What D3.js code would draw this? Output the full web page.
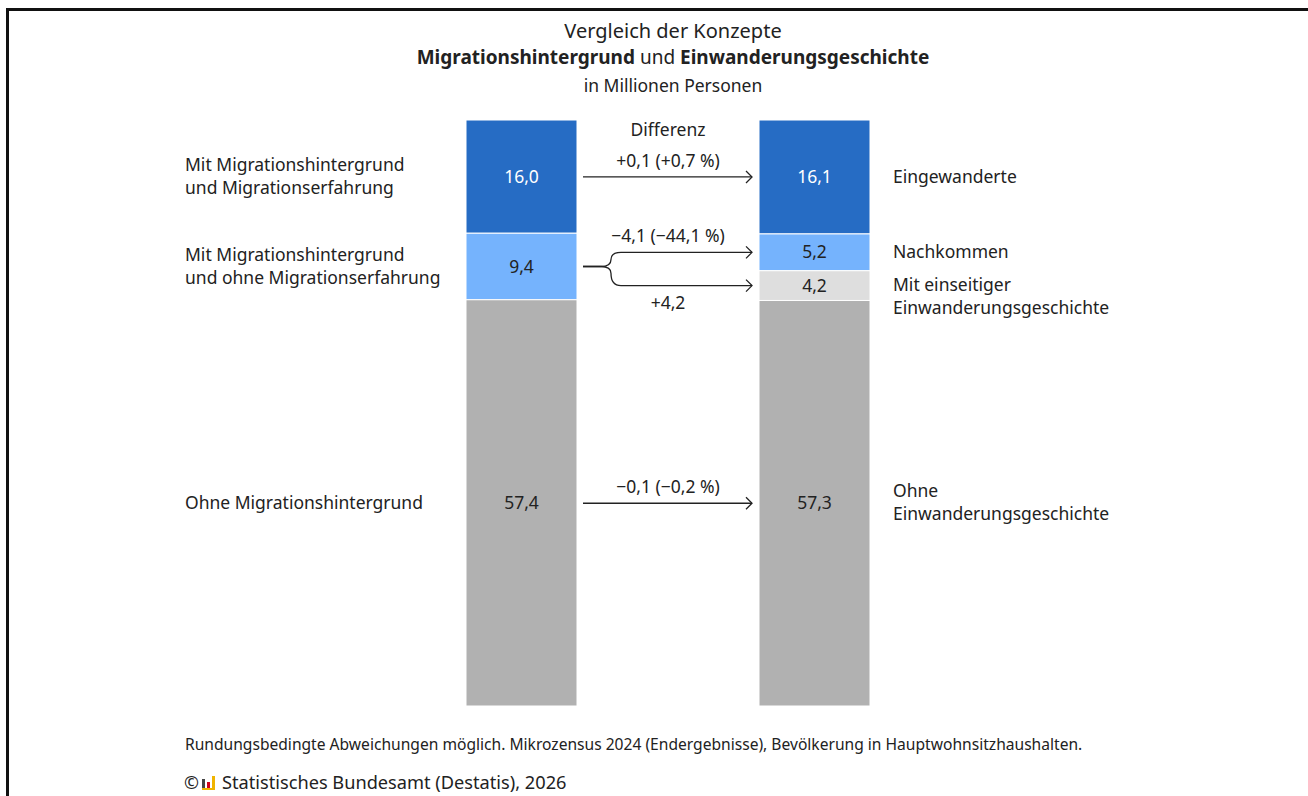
<!DOCTYPE html>
<html>
<head>
<meta charset="utf-8">
<script src="https://cdn.jsdelivr.net/npm/d3@7"></script>
<style>
  body { margin: 0; background: #fff; }
  svg text { font-family: "Noto Sans", "Open Sans", sans-serif; fill: #222; }
</style>
</head>
<body>
<svg id="chart" width="1308" height="796"></svg>
<script>
'use strict';

// left bar: Migrationshintergrund
var leftLabels = [
    ['Mit Migrationshintergrund', 'und Migrationserfahrung'],
    ['Mit Migrationshintergrund', 'und ohne Migrationserfahrung'],
    ['Ohne Migrationshintergrund']
];
var leftValues = [16.0, 9.4, 57.4];

// right bar: Einwanderungsgeschichte
var rightLabels = [
    ['Eingewanderte'],
    ['Nachkommen'],
    ['Mit einseitiger', 'Einwanderungsgeschichte'],
    ['Ohne', 'Einwanderungsgeschichte']
];
var rightValues = [16.1, 5.2, 4.2, 57.3];

var leftColors = ['#266cc4', '#75b3fd', '#b1b1b1'];
var rightColors = ['#266cc4', '#75b3fd', '#dedede', '#b1b1b1'];

// arrows: from left segment -> to right segment
var diffLabels = ['+0,1 (+0,7 %)', '\u22124,1 (\u221244,1 %)', '+4,2', '\u22120,1 (\u22120,2 %)'];
var diffFrom = [0, 1, 1, 2];
var diffTo = [0, 1, 2, 3];

function fmt(v) { return v.toFixed(1).replace('.', ','); }

var svg = d3.select('#chart');
var fs = '17.5px';

// outer frame (runs off the right and bottom edge)
svg.append('rect')
    .attr('x', 7.5).attr('y', 9.5)
    .attr('width', 1400).attr('height', 900)
    .attr('fill', 'none').attr('stroke', '#111').attr('stroke-width', 3);

// title
var cx = 673;
svg.append('text').attr('x', cx).attr('y', 38).attr('text-anchor', 'middle')
    .style('font-size', '20px').text('Vergleich der Konzepte');
var t2 = svg.append('text').attr('x', cx).attr('y', 64).attr('text-anchor', 'middle')
    .style('font-size', '19px');
t2.append('tspan').style('font-weight', 'bold').text('Migrationshintergrund');
t2.append('tspan').text(' und ');
t2.append('tspan').style('font-weight', 'bold').text('Einwanderungsgeschichte');
svg.append('text').attr('x', cx).attr('y', 92).attr('text-anchor', 'middle')
    .style('font-size', '17.5px').text('in Millionen Personen');

// scales
var total = d3.sum(leftValues);
var y = d3.scaleLinear().domain([0, total]).range([120, 706]);
var barW = 111;
var x = d3.scaleOrdinal().domain(['left', 'right']).range([466, 759]);

function segments(values) {
    var acc = 0;
    return values.map(function (v, i) {
        var s = { i: i, v: v, y0: acc, y1: acc + v };
        acc += v;
        return s;
    });
}
var leftSegs = segments(leftValues);
var rightSegs = segments(rightValues);

function drawBar(side, segs, colors, labels, labelX) {
    var g = svg.append('g');
    g.selectAll('rect')
        .data(segs)
        .enter()
        .append('rect')
        .attr('x', x(side))
        .attr('y', function (d) { return y(d.y0); })
        .attr('width', barW)
        .attr('height', function (d) { return y(d.y1) - y(d.y0); })
        .attr('fill', function (d) { return colors[d.i]; })
        .attr('stroke', '#fff').attr('stroke-width', 1);

    g.selectAll('text.val')
        .data(segs)
        .enter()
        .append('text')
        .attr('class', 'val')
        .attr('x', x(side) + barW / 2)
        .attr('y', function (d) { return (y(d.y0) + y(d.y1)) / 2 + 6; })
        .attr('text-anchor', 'middle')
        .style('font-size', fs)
        .style('fill', function (d) { return d.i === 0 ? '#fff' : '#222'; })
        .text(function (d) { return fmt(d.v); });

    segs.forEach(function (d) {
        var lines = labels[d.i];
        var mid = (y(d.y0) + y(d.y1)) / 2;
        var first = lines.length > 1 ? mid - 6 : mid + 6;
        // "Mit einseitiger ..." starts level with its segment
        if (side === 'right' && d.i === 2) first = mid + 5;
        var t = svg.append('text').attr('x', labelX).attr('y', first)
            .style('font-size', fs);
        lines.forEach(function (l, k) {
            t.append('tspan').attr('x', labelX).attr('dy', k === 0 ? 0 : 23).text(l);
        });
    });
}

drawBar('left', leftSegs, leftColors, leftLabels, 185);
drawBar('right', rightSegs, rightColors, rightLabels, 893);

// Differenz header
svg.append('text').attr('x', 668).attr('y', 136).attr('text-anchor', 'middle')
    .style('font-size', fs).text('Differenz');

// arrows
var x0 = x('left') + barW + 6;
var x1 = x('right') - 7;
var mid = function (s) { return (y(s.y0) + y(s.y1)) / 2; };

var arrows = svg.append('g').attr('fill', 'none').attr('stroke', '#222').attr('stroke-width', 1.3);

diffLabels.forEach(function (lab, i) {
    var ya = mid(leftSegs[diffFrom[i]]);
    var yb = mid(rightSegs[diffTo[i]]);
    var straight = Math.abs(ya - yb) < 2;
    var path;
    if (straight) {
        path = 'M' + x0 + ',' + yb + 'H' + x1;
    } else {
        // brace split
        var bx = x0 + 18;
        var dir = yb < ya ? -1 : 1;
        path = 'M' + x0 + ',' + ya + 'H' + bx +
            'Q' + (bx + 10) + ',' + ya + ' ' + (bx + 10) + ',' + (ya + dir * 7) +
            'Q' + (bx + 10) + ',' + yb + ' ' + (bx + 20) + ',' + yb +
            'H' + x1;
    }
    arrows.append('path').attr('d', path);
    arrows.append('path')
        .attr('d', 'M' + (x1 - 6) + ',' + (yb - 6) + 'L' + x1 + ',' + yb + 'L' + (x1 - 6) + ',' + (yb + 6));

    var below = !straight && yb > ya;
    var ly = below ? yb + 23 : yb - 10;
    svg.append('text').attr('x', 668).attr('y', ly).attr('text-anchor', 'middle')
        .style('font-size', fs).text(lab);
});

// footer
svg.append('text').attr('x', 185).attr('y', 750)
    .style('font-size', '15.6px')
    .text('Rundungsbedingte Abweichungen möglich. Mikrozensus 2024 (Endergebnisse), Bevölkerung in Hauptwohnsitzhaushalten.');

svg.append('text').attr('x', 184).attr('y', 789).style('font-size', '18px').text('\u00a9');
var logo = svg.append('g').attr('transform', 'translate(202,776)');
logo.append('rect').attr('x', 0).attr('y', 3).attr('width', 3).attr('height', 10).attr('fill', '#444');
logo.append('rect').attr('x', 5).attr('y', 6).attr('width', 3).attr('height', 7).attr('fill', '#d0021b');
logo.append('rect').attr('x', 10).attr('y', 0).attr('width', 3).attr('height', 13).attr('fill', '#f0b400');
logo.append('rect').attr('x', 0).attr('y', 12).attr('width', 13).attr('height', 2).attr('fill', '#f0b400');
svg.append('text').attr('x', 222).attr('y', 789).style('font-size', '18.2px')
    .text('Statistisches Bundesamt (Destatis), 2026');
</script>
</body>
</html>
